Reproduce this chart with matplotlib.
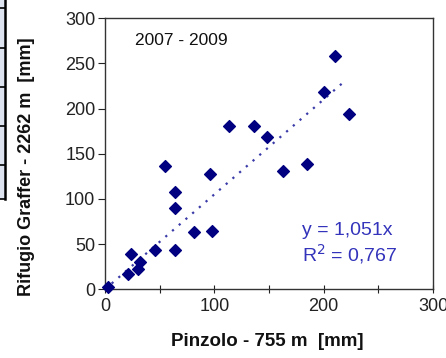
import matplotlib.pyplot as plt
from matplotlib.lines import Line2D
from matplotlib.patches import Rectangle
import numpy as np

plt.rcParams['font.family'] = ['Liberation Sans', 'DejaVu Sans']

# Pinzolo (x) vs Rifugio Graffer (y), mm
pinzolo = [3, 21, 24, 30, 32, 46, 64, 55, 64, 64, 81, 96, 98, 113, 136, 148, 163, 185, 200, 210, 223]
graffer = [3, 17, 39, 23, 30, 43, 44, 136, 108, 90, 63, 128, 65, 181, 181, 169, 131, 139, 218, 258, 194]
slope = 1.051
r2 = 0.767
x_ticks = [0, 100, 200, 300]
y_ticks = [0, 50, 100, 150, 200, 250, 300]

fig = plt.figure(figsize=(4.46, 3.58), dpi=100)

# bordo della tabella a sinistra (ritaglio)
fig.patches.append(Rectangle((0, 1 - 199 / 358), 4.5 / 446, 199 / 358, transform=fig.transFigure,
                             facecolor='#dde4ef', edgecolor='none'))
fig.lines.append(Line2D([4.5 / 446, 4.5 / 446], [1, 1 - 199 / 358], transform=fig.transFigure,
                        color='black', lw=1.8))
for yy in [8, 48, 87, 126, 165, 199]:
    fig.lines.append(Line2D([0, 4.5 / 446], [1 - yy / 358, 1 - yy / 358], transform=fig.transFigure,
                            color='black', lw=1.2))

ax = fig.add_axes([105 / 446, 1 - 289.3 / 358, 328 / 446, 271 / 358])

xs = np.array([0, 218])
ax.plot(xs, slope * xs, linestyle=(0, (1, 3)), color='#3a3aa8', lw=1.6, zorder=1)
ax.scatter(pinzolo, graffer, marker='D', s=36, color='#000080', zorder=3, clip_on=False)

ax.set_xlim(0, 300)
ax.set_ylim(0, 300)
ax.set_xticks(range(0, 301, 50))
ax.set_xticklabels([str(t) if t in x_ticks else '' for t in range(0, 301, 50)])
ax.set_yticks(y_ticks)
ax.tick_params(axis='x', direction='inout', length=6, labelsize=13, colors='#222222', pad=3)
ax.tick_params(axis='y', direction='out', length=5, labelsize=13, colors='#222222', pad=2)
for s in ax.spines.values():
    s.set_color('#333333')
    s.set_linewidth(1.0)

ax.text(0.092, 0.9, '2007 - 2009', transform=ax.transAxes, fontsize=12.5, color='#111111')
ax.text(0.6, 0.2, 'y = %s' % str(slope).replace('.', ',') + 'x', transform=ax.transAxes,
        fontsize=14, color='#3333bb')
ax.text(0.6, 0.105, 'R$^2$ = %s' % str(r2).replace('.', ','), transform=ax.transAxes,
        fontsize=14, color='#3333bb')

fig.text(267 / 446, 1 - 342 / 358, 'Pinzolo - 755 m  [mm]', ha='center', va='center',
         fontsize=13.5, fontweight='bold', color='#111111')
fig.text(27 / 446, 1 - 167 / 358, 'Rifugio Graffer - 2262 m  [mm]', ha='center', va='center',
         rotation=90, fontsize=13, fontweight='bold', color='#111111')

fig.savefig('out.png', dpi=100)
